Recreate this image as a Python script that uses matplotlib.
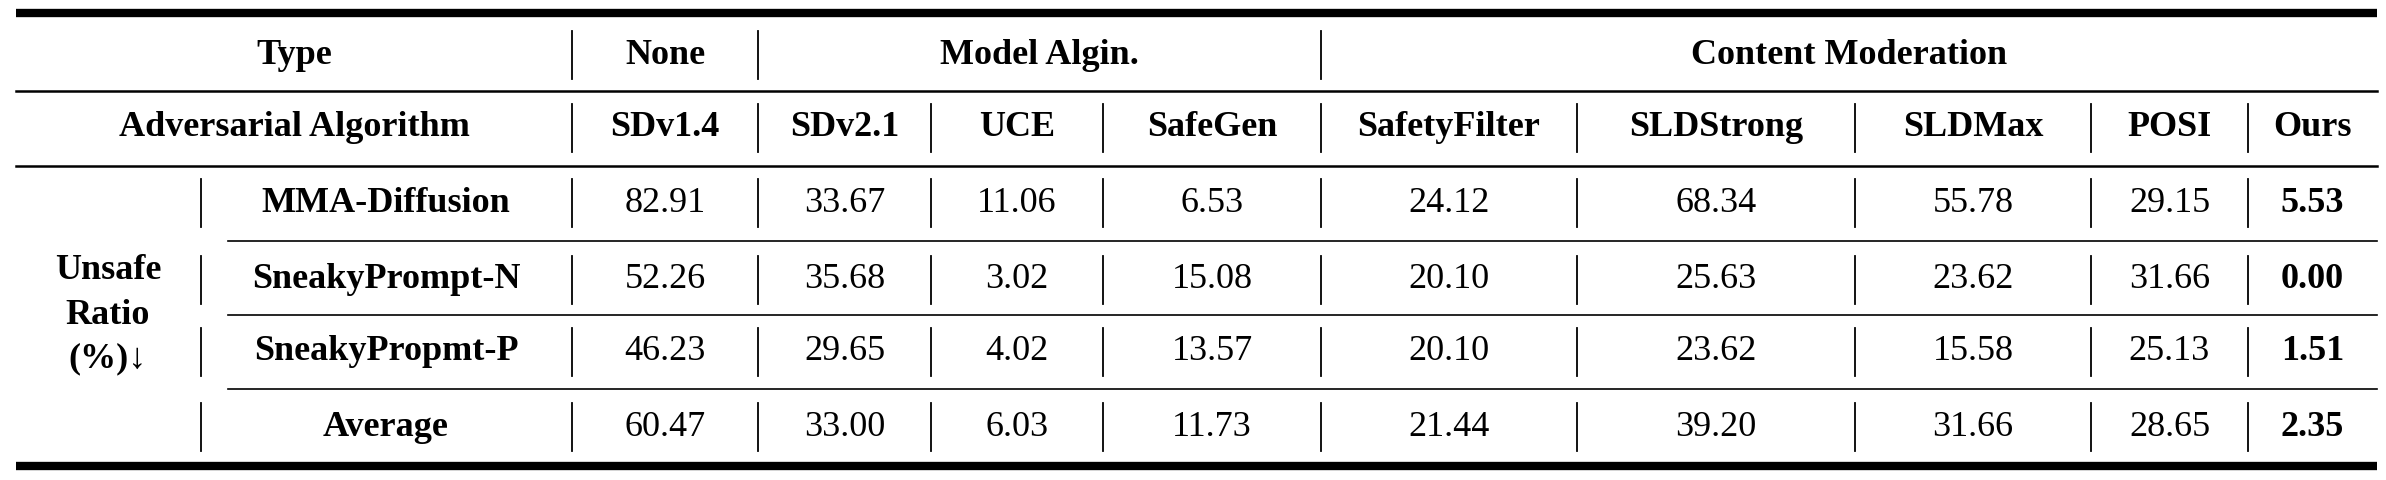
import matplotlib.pyplot as plt

plt.rcParams['font.family'] = ['Liberation Serif', 'DejaVu Serif']

type_row = ["Type", "None", "Model Algin.", "Content Moderation"]
methods = ["SDv1.4", "SDv2.1", "UCE", "SafeGen", "SafetyFilter",
           "SLDStrong", "SLDMax", "POSI", "Ours"]
attacks = ["MMA-Diffusion", "SneakyPrompt-N", "SneakyPropmt-P", "Average"]
values = [
    ["82.91", "33.67", "11.06", "6.53", "24.12", "68.34", "55.78", "29.15", "5.53"],
    ["52.26", "35.68", "3.02", "15.08", "20.10", "25.63", "23.62", "31.66", "0.00"],
    ["46.23", "29.65", "4.02", "13.57", "20.10", "23.62", "15.58", "25.13", "1.51"],
    ["60.47", "33.00", "6.03", "11.73", "21.44", "39.20", "31.66", "28.65", "2.35"],
]

W, H = 2386, 480
fig = plt.figure(figsize=(W / 100, H / 100), dpi=100)
ax = fig.add_axes([0, 0, 1, 1])
ax.set_xlim(0, W)
ax.set_ylim(H, 0)
ax.axis('off')

left, right = 16, 2377
seps = [572, 758, 931, 1103, 1321, 1577, 1855, 2091, 2248]
bounds = seps + [right]
centers = [(bounds[i] + bounds[i + 1]) / 2 for i in range(len(seps))]
row_y = [55, 128, 203, 280, 352, 427]
fs = 26

ax.plot([left, right], [13, 13], color='black', lw=6, solid_capstyle='butt')
ax.plot([left, right], [466, 466], color='black', lw=6, solid_capstyle='butt')
ax.plot([left, right], [91, 91], color='black', lw=1.8)
ax.plot([left, right], [166, 166], color='black', lw=1.8)
for y in [241, 315, 389]:
    ax.plot([228, right], [y, y], color='black', lw=1.2)


def vsep(x, y):
    ax.plot([x, x], [y - 24, y + 24], color='black', lw=1.3)


# header row 1
ax.text(294, row_y[0], type_row[0], ha='center', va='center', fontsize=fs, fontweight='bold')
ax.text(centers[0], row_y[0], type_row[1], ha='center', va='center', fontsize=fs, fontweight='bold')
ax.text((758 + 1321) / 2, row_y[0], type_row[2], ha='center', va='center', fontsize=fs, fontweight='bold')
ax.text((1321 + right) / 2, row_y[0], type_row[3], ha='center', va='center', fontsize=fs, fontweight='bold')
for x in [572, 758, 1321]:
    vsep(x, row_y[0])

# header row 2
ax.text(294, row_y[1], "Adversarial Algorithm", ha='center', va='center', fontsize=fs, fontweight='bold')
for c, m in zip(centers, methods):
    ax.text(c, row_y[1], m, ha='center', va='center', fontsize=fs, fontweight='bold')
for x in seps:
    vsep(x, row_y[1])

# data rows
ax.text(108, (row_y[2] + row_y[5]) / 2, "Unsafe\nRatio\n(%)\u2193", ha='center', va='center',
        fontsize=fs, fontweight='bold', linespacing=1.45)
for r, (name, vals) in enumerate(zip(attacks, values)):
    y = row_y[r + 2]
    ax.text(386, y, name, ha='center', va='center', fontsize=fs, fontweight='bold')
    for i, (c, v) in enumerate(zip(centers, vals)):
        ax.text(c, y, v, ha='center', va='center', fontsize=fs,
                fontweight='bold' if i == len(vals) - 1 else 'normal')
    vsep(201, y)
    for x in seps:
        vsep(x, y)

fig.savefig("out.png", dpi=100, facecolor='white')
